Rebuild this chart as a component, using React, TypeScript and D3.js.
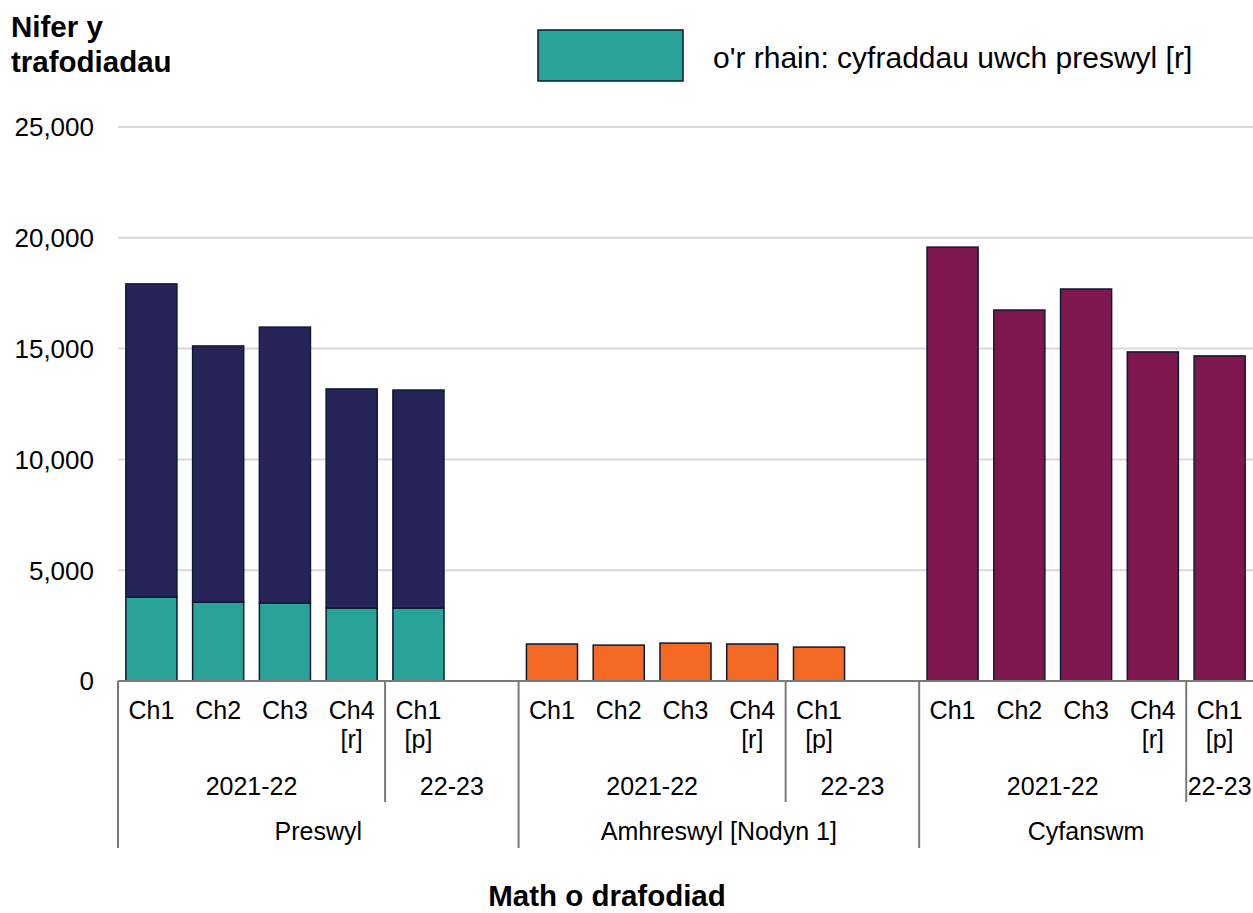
import React from "react";
import * as d3 from "d3";

const groups = ["Preswyl", "Amhreswyl [Nodyn 1]", "Cyfanswm"];
const quarterLabels = [["Ch1"], ["Ch2"], ["Ch3"], ["Ch4", "[r]"], ["Ch1", "[p]"]];
const yearLabels = ["2021-22", "22-23"];
const preswylTotal = [17920, 15120, 15970, 13180, 13130];
const preswylHigher = [3790, 3560, 3520, 3290, 3290];
const amhreswyl = [1670, 1620, 1710, 1670, 1530];
const cyfanswm = [19580, 16740, 17690, 14850, 14670];
const yTicks = [0, 5000, 10000, 15000, 20000, 25000];
const slotsPerGroup = [6, 6, 5];

const W = 1253;
const H = 913;
const FONT = "'Liberation Sans', Arial, sans-serif";
const C_NAVY = "#27245A";
const C_TEAL = "#2AA399";
const C_ORANGE = "#F46A25";
const C_MAROON = "#7E174D";
const C_STROKE = "#0C1A33";

export default function App() {
  const slotKeys: string[] = [];
  groups.forEach((g, gi) => {
    for (let i = 0; i < slotsPerGroup[gi]; i++) slotKeys.push(`${gi}-${i}`);
  });
  const x = d3.scaleBand<string>().domain(slotKeys).range([118, 1253]).paddingInner(0.235).paddingOuter(0.1175);
  const y = d3.scaleLinear().domain([0, 25000]).range([681, 127]);
  const step = x.step();
  const slotStart = (gi: number, i: number) => 118 + step * slotKeys.indexOf(`${gi}-${i}`);

  type Bar = { key: string; y0: number; y1: number; fill: string };
  const bars: Bar[] = [];
  preswylTotal.forEach((v, i) => {
    bars.push({ key: `0-${i}`, y0: 0, y1: preswylHigher[i], fill: C_TEAL });
    bars.push({ key: `0-${i}`, y0: preswylHigher[i], y1: v, fill: C_NAVY });
  });
  amhreswyl.forEach((v, i) => bars.push({ key: `1-${i}`, y0: 0, y1: v, fill: C_ORANGE }));
  cyfanswm.forEach((v, i) => bars.push({ key: `2-${i}`, y0: 0, y1: v, fill: C_MAROON }));

  const axisColor = "#7a7a7a";
  const fs = 25;

  return (
    <svg width={W} height={H} style={{ position: "absolute", left: 0, top: 0, background: "#fff" }} fontFamily={FONT}>
      {yTicks.filter((t) => t > 0).map((t) => (
        <line key={t} x1={118} x2={1253} y1={y(t)} y2={y(t)} stroke="#d9d9d9" strokeWidth={2} />
      ))}
      {yTicks.map((t) => (
        <text key={t} x={94} y={y(t)} dy="0.36em" textAnchor="end" fontSize={26} fill="#000">
          {d3.format(",")(t)}
        </text>
      ))}
      {bars.map((b, i) => (
        <rect
          key={i}
          x={x(b.key)!}
          width={x.bandwidth()}
          y={y(b.y1)}
          height={y(b.y0) - y(b.y1)}
          fill={b.fill}
          stroke={C_STROKE}
          strokeWidth={1.5}
        />
      ))}
      {/* category axis */}
      <line x1={118} x2={1253} y1={681} y2={681} stroke={axisColor} strokeWidth={2} />
      {groups.map((g, gi) => {
        const start = slotStart(gi, 0);
        const end = start + step * slotsPerGroup[gi];
        const yearSplit = slotStart(gi, 4);
        return (
          <g key={g}>
            <line x1={start} x2={start} y1={681} y2={848} stroke={axisColor} strokeWidth={2} />
            <line x1={yearSplit} x2={yearSplit} y1={681} y2={802} stroke={axisColor} strokeWidth={2} />
            {quarterLabels.map((lines, i) => {
              const cx = slotStart(gi, i) + step / 2;
              return (
                <text key={i} x={cx} textAnchor="middle" fontSize={fs} fill="#000">
                  {lines.map((l, li) => (
                    <tspan key={li} x={cx} y={719 + li * 29}>
                      {l}
                    </tspan>
                  ))}
                </text>
              );
            })}
            <text x={(start + yearSplit) / 2} y={795} textAnchor="middle" fontSize={fs}>
              {yearLabels[0]}
            </text>
            <text x={(yearSplit + Math.min(end, W)) / 2} y={795} textAnchor="middle" fontSize={fs}>
              {yearLabels[1]}
            </text>
            <text x={(start + Math.min(end, W)) / 2} y={840} textAnchor="middle" fontSize={fs}>
              {g}
            </text>
          </g>
        );
      })}
      {/* titles */}
      <text x={11} fontSize={29.5} fontWeight="bold">
        <tspan x={11} y={37}>Nifer y</tspan>
        <tspan x={11} y={72}>trafodiadau</tspan>
      </text>
      <text x={607} y={906} textAnchor="middle" fontSize={29.5} fontWeight="bold">
        Math o drafodiad
      </text>
      {/* legend */}
      <rect x={538} y={30} width={145} height={51} fill={C_TEAL} stroke={C_STROKE} strokeWidth={1.5} />
      <text x={713} y={68} fontSize={30}>
        o'r rhain: cyfraddau uwch preswyl [r]
      </text>
    </svg>
  );
}
